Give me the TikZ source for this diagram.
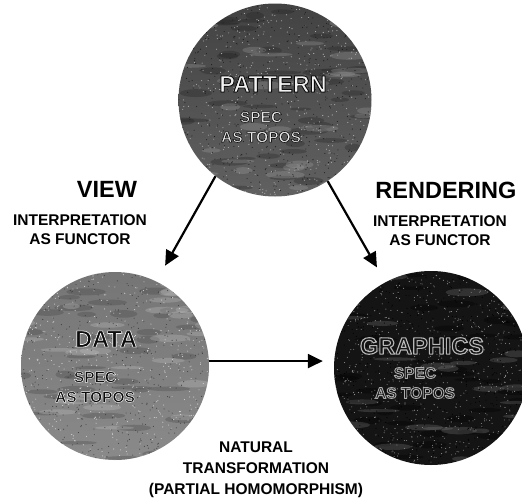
\documentclass[tikz,border=0pt]{standalone}
\usepackage{fontspec}
\setmainfont{Liberation Sans}
\usetikzlibrary{arrows.meta}

% outlined lettering (filled and stroked glyphs):
% fill colour, outline grey level, outline width, text
\newcommand\emb[4]{\textcolor{#1}{\special{pdf:literal direct 2 Tr #3 w 1 j #2 G}#4\special{pdf:literal direct 0 Tr 0.4 w}}}

\begin{document}
\begin{tikzpicture}[x=1pt,y=-1pt,
  ball/.style={circle, inner sep=0pt, minimum size=#1},
  texture/.style n args={3}{path picture={
    \begin{scope}[shift={(path picture bounding box.center)}]
      \foreach \k in {1,...,45}{\fill[#2, opacity=0.3]
        ({rand*95pt},{rand*95pt}) ellipse [x radius={8pt+14pt*rnd}, y radius={1.5pt+2.5pt*rnd}];}
      \foreach \k in {1,...,30}{\fill[#1, opacity=0.25]
        ({rand*95pt},{rand*95pt}) ellipse [x radius={8pt+14pt*rnd}, y radius={1.5pt+2.5pt*rnd}];}
      \foreach \k in {1,...,600}{\fill[#1] ({rand*100pt},{rand*100pt}) circle (0.55pt);}
      \foreach \k in {1,...,600}{\fill[#2] ({rand*100pt},{rand*100pt}) circle (0.55pt);}
      \foreach \k in {1,...,#3}{\fill[#1] ({rand*100pt},{rand*100pt}) circle (0.5pt);}
    \end{scope}}},
  bigtxt/.style={inner sep=0pt, font=\bfseries\fontsize{23.5}{26}\selectfont},
  smalltxt/.style={inner sep=0pt, align=center, font=\bfseries\fontsize{15.5}{19}\selectfont},
  spectxt/.style={inner sep=0pt, align=center, font=\bfseries\fontsize{15.5}{20}\selectfont},
  conn/.style={line width=2.2pt, -{Triangle[length=15pt,width=14pt]}},
]
\pgfmathsetseed{7}
\useasboundingbox (0,0) rectangle (522,501);

% the three specification spheres
\node[ball=193pt, top color=black!74, middle color=black!56, bottom color=black!62,
      texture={black!30}{black!88}{0}] (pattern) at (275,100) {};
\node[ball=188pt, top color=black!54, middle color=black!40, bottom color=black!46,
      texture={black!18}{black!75}{0}] (data) at (115,366) {};
\node[ball=194pt, fill=black!92,
      texture={black!45}{black}{300}] (graphics) at (431,368) {};

% lettering inside the spheres
\node[bigtxt] (patternname) at (273,84) {\emb{black!5}{0.05}{0.9}{PATTERN}};
\node[bigtxt] (dataname) at (106,339) {\emb{black!95}{0.97}{0.65}{DATA}};
\node[bigtxt] (graphicsname) at (422,346) {\emb{black!92}{0.72}{1.1}{GRAPHICS}};
\node[spectxt] (patternspec) at (261,127)
  {\emb{black!8}{0.1}{0.7}{SPEC}\\\emb{black!8}{0.1}{0.7}{AS TOPOS}};
\node[spectxt] (dataspec) at (95,387)
  {\emb{black!95}{0.97}{0.5}{SPEC}\\\emb{black!95}{0.97}{0.5}{AS TOPOS}};
\node[spectxt] (graphicsspec) at (415,383)
  {\emb{black!92}{0.68}{0.9}{SPEC}\\\emb{black!92}{0.68}{0.9}{AS TOPOS}};

% morphisms
\draw[conn, shorten >=18pt] (pattern.232) -- (data.64);
\draw[conn, shorten >=17pt] (pattern.303) -- (graphics.118);
\draw[conn, shorten >=11pt] (data.3) -- (data.3 -| graphics.west);

% arrow labels
\node[bigtxt] (viewtitle) at (107,189) {VIEW};
\node[smalltxt] (viewsub) at (80,229.5) {INTERPRETATION\\AS FUNCTOR};
\node[bigtxt] (rendertitle) at (446,190) {RENDERING};
\node[smalltxt] (rendersub) at (440,231) {INTERPRETATION\\AS FUNCTOR};
\node[smalltxt, font=\bfseries\fontsize{15.5}{21}\selectfont] (natural) at (256,469.5)
  {NATURAL\\TRANSFORMATION\\(PARTIAL HOMOMORPHISM)};
\end{tikzpicture}
\end{document}
